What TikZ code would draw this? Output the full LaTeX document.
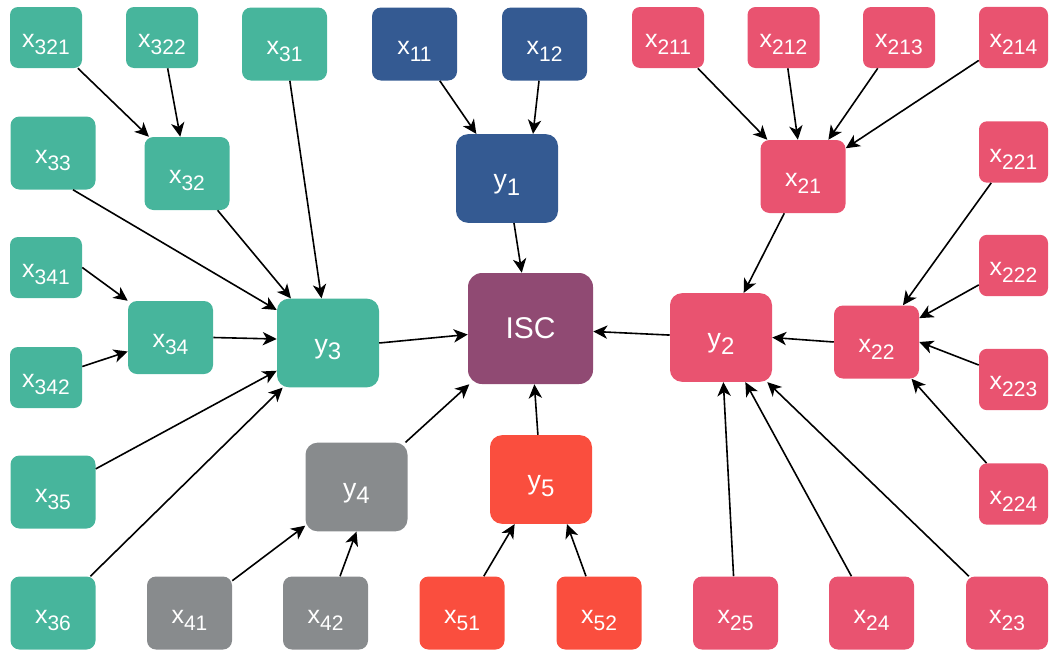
\documentclass[tikz,border=0pt]{standalone}
\usepackage{fontspec}
\setmainfont{Liberation Sans}
\usetikzlibrary{arrows.meta,calc}

\definecolor{cTeal}{HTML}{47B59C}
\definecolor{cBlue}{HTML}{345A92}
\definecolor{cPink}{HTML}{E95370}
\definecolor{cPurple}{HTML}{904A73}
\definecolor{cGray}{HTML}{888B8D}
\definecolor{cOrange}{HTML}{FA4E3E}

% indicator labels: letter with a lowered index
\newcommand{\xlab}[2]{{\fontsize{18.75}{20}\selectfont #1\raisebox{-5.25pt}{\fontsize{15.75}{17}\selectfont #2}}}
\newcommand{\ylab}[2]{{\fontsize{20}{22}\selectfont #1\raisebox{-5pt}{\fontsize{18}{20}\selectfont #2}}}

\tikzset{
  box/.style={rectangle, inner sep=0pt, text=white, text height=15pt, text depth=0pt},
  smallbox/.style={box, minimum width=54pt, minimum height=45.75pt, rounded corners=6pt},
  edgebox/.style={box, minimum width=51.75pt, minimum height=46pt, rounded corners=6pt},
  midbox/.style={box, minimum width=63.75pt, minimum height=54.75pt, rounded corners=6.75pt},
  bigbox/.style={box, minimum width=76.5pt, minimum height=66.5pt, rounded corners=9pt},
  corebox/.style={box, minimum width=93.75pt, minimum height=83.25pt, rounded corners=10.5pt},
  arr/.style={-{Stealth[length=10.5pt,width=10pt,inset=3pt]}, line width=1.2pt, black}
}

\begin{document}
\begin{tikzpicture}[x=0.75pt, y=-0.75pt]
\useasboundingbox (0,0) rectangle (1049,650);

% ---- group 3 (teal) ----
\node[smallbox, fill=cTeal] (x321) at (46,37.5)    {\xlab{x}{321}};
\node[smallbox, fill=cTeal] (x322) at (162,37.5)   {\xlab{x}{322}};
\node[midbox,   fill=cTeal] (x31)  at (284.5,44)   {\xlab{x}{31}};
\node[midbox,   fill=cTeal] (x33)  at (53,153)     {\xlab{x}{33}};
\node[midbox,   fill=cTeal] (x32)  at (187,173.5)  {\xlab{x}{32}};
\node[smallbox, fill=cTeal] (x341) at (46,267.5)   {\xlab{x}{341}};
\node[smallbox, fill=cTeal] (x342) at (46,377.5)   {\xlab{x}{342}};
\node[midbox,   fill=cTeal] (x34)  at (170.5,337.5){\xlab{x}{34}};
\node[bigbox,   fill=cTeal] (y3)   at (328,343)    {\ylab{y}{3}};
\node[midbox,   fill=cTeal] (x35)  at (53,492)     {\xlab{x}{35}};
\node[midbox,   fill=cTeal] (x36)  at (53,613)     {\xlab{x}{36}};

% ---- group 1 (blue) ----
\node[midbox, fill=cBlue] (x11) at (414.5,44)  {\xlab{x}{11}};
\node[midbox, fill=cBlue] (x12) at (544.5,44)  {\xlab{x}{12}};
\node[bigbox, fill=cBlue] (y1)  at (507,178.5) {\ylab{y}{1}};

% ---- group 2 (pink) ----
\node[smallbox, fill=cPink] (x211) at (668,37.5)    {\xlab{x}{211}};
\node[smallbox, fill=cPink] (x212) at (783.5,37.5)  {\xlab{x}{212}};
\node[smallbox, fill=cPink] (x213) at (899,37.5)    {\xlab{x}{213}};
\node[edgebox,  fill=cPink] (x214) at (1013.5,37.5) {\xlab{x}{214}};
\node[midbox,   fill=cPink] (x21)  at (803,176.5)   {\xlab{x}{21}};
\node[edgebox,  fill=cPink] (x221) at (1013.5,152)  {\xlab{x}{221}};
\node[edgebox,  fill=cPink] (x222) at (1013.5,265.5){\xlab{x}{222}};
\node[edgebox,  fill=cPink] (x223) at (1013.5,379.5){\xlab{x}{223}};
\node[edgebox,  fill=cPink] (x224) at (1013.5,494)  {\xlab{x}{224}};
\node[midbox,   fill=cPink] (x22)  at (876.5,342)   {\xlab{x}{22}};
\node[bigbox,   fill=cPink] (y2)   at (721,337.5)   {\ylab{y}{2}};
\node[midbox,   fill=cPink] (x25)  at (735.5,613)   {\xlab{x}{25}};
\node[midbox,   fill=cPink] (x24)  at (871.5,613)   {\xlab{x}{24}};
\node[midbox,   fill=cPink, minimum width=61.5pt] (x23) at (1007,613) {\xlab{x}{23}};

% ---- group 4 (gray) ----
\node[bigbox, fill=cGray] (y4)  at (356.5,487) {\ylab{y}{4}};
\node[midbox, fill=cGray] (x41) at (189.5,613) {\xlab{x}{41}};
\node[midbox, fill=cGray] (x42) at (325.5,613) {\xlab{x}{42}};

% ---- group 5 (orange) ----
\node[bigbox, fill=cOrange] (y5)  at (541,479.5) {\ylab{y}{5}};
\node[midbox, fill=cOrange] (x51) at (462,613)   {\xlab{x}{51}};
\node[midbox, fill=cOrange] (x52) at (599,613)   {\xlab{x}{52}};

% ---- composite index ----
\node[corebox, fill=cPurple] (ISC) at (530.5,328.5) {\fontsize{22.5}{24}\selectfont ISC};

% ---- connectors, group 3 ----
\draw[arr] (x321) -- (x32);
\draw[arr] (x322) -- (x32);
\draw[arr] (x32) -- (y3);
\draw[arr] (x31) -- (y3);
\draw[arr] ($(x33.south)+(20,0)$) -- ($(y3.west)+(0,-33)$);
\draw[arr] (x341.east) -- (x34.north west);
\draw[arr] ($(x342.east)+(0,-11)$) -- ($(x34.west)+(0,14)$);
\draw[arr] (x34.east) -- ($(y3.west)+(0,-4)$);
\draw[arr] (x35) -- (y3);
\draw[arr] (x36) -- (y3);
\draw[arr] (y3.east) -- ($(ISC.west)+(0,6)$);

% ---- connectors, group 1 ----
\draw[arr] (x11) -- (y1);
\draw[arr] ($(x12.south)+(-5.5,0)$) -- ($(y1.north)+(26,0)$);
\draw[arr] (y1) -- (ISC);

% ---- connectors, group 2 ----
\draw[arr] (x211) -- (x21);
\draw[arr] (x212) -- (x21);
\draw[arr] (x213) -- (x21);
\draw[arr] (x214) -- (x21);
\draw[arr] (x21) -- (y2);
\draw[arr] (x221) -- (x22);
\draw[arr] (x222) -- (x22);
\draw[arr] ($(x223.west)+(0,-14.5)$) -- (x22.east);
\draw[arr] ($(x224.north)+(-27,0)$) -- ($(x22.south)+(35,0)$);
\draw[arr] (x22.west) -- (y2.east);
\draw[arr] (x25) -- (y2);
\draw[arr] (x24) -- (y2);
\draw[arr] (x23) -- (y2);
\draw[arr] (y2) -- (ISC);

% ---- connectors, group 4 ----
\draw[arr] (x41) -- (y4);
\draw[arr] ($(x42.north)+(14.5,0)$) -- (y4.south);
\draw[arr] (y4) -- (ISC);

% ---- connectors, group 5 ----
\draw[arr] (x51) -- (y5);
\draw[arr] ($(x52.north)+(-13,0)$) -- ($(y5.south)+(26,0)$);
\draw[arr] (y5) -- (ISC);
\end{tikzpicture}
\end{document}
